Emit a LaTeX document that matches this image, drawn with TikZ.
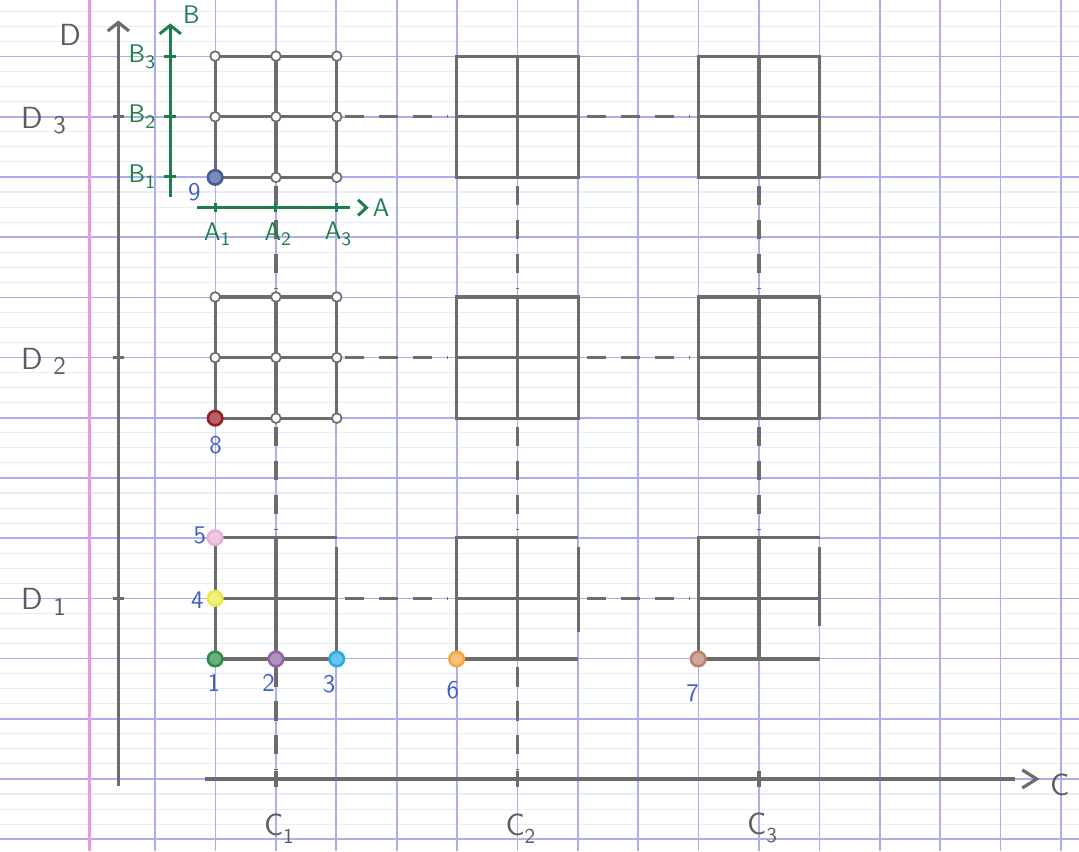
\documentclass[tikz,border=0pt]{standalone}
\usetikzlibrary{arrows.meta,calc}

\definecolor{paperblue}{RGB}{172,174,238}
\definecolor{paperfaint}{RGB}{230,236,250}
\definecolor{marginpink}{RGB}{240,150,222}
\definecolor{pencil}{RGB}{108,108,108}
\definecolor{axisgreen}{RGB}{30,125,75}
\definecolor{inkblue}{RGB}{65,95,200}
\definecolor{dotgreen}{RGB}{45,140,70}
\definecolor{dotpurple}{RGB}{145,100,165}
\definecolor{dotcyan}{RGB}{40,170,225}
\definecolor{dotyellow}{RGB}{238,232,70}
\definecolor{dotpink}{RGB}{232,175,215}
\definecolor{dotorange}{RGB}{245,165,65}
\definecolor{dotbrown}{RGB}{185,130,110}
\definecolor{dotred}{RGB}{150,30,35}
\definecolor{dotblue}{RGB}{65,90,155}

\begin{document}
\begin{tikzpicture}[x=1cm, y=0.997cm, >={Straight Barb[length=4pt, width=10pt]},
    pencil line/.style={draw=pencil, line width=1.5pt},
    link/.style={draw=pencil, line width=1.5pt, dash pattern=on 9pt off 7pt, shorten <=4pt, shorten >=4pt},
    block/.style={minimum width=2cm, minimum height=1.994cm, inner sep=0pt},
    green line/.style={draw=axisgreen, line width=1.4pt},
    pt label/.style={text=inkblue, font=\sffamily\large},
    axis label/.style={text=pencil!85!black, font=\sffamily\Large},
    green label/.style={text=axisgreen, font=\sffamily\large},
]

    % --- 1. Squared paper ---
    \useasboundingbox (-2.57,-1.2) rectangle (15.3,12.94);
    \fill[white] (-2.57,-1.2) rectangle (15.3,12.94);
    \foreach \y in {-1.25,-1,...,12.75}
        \draw[paperfaint, line width=0.5pt] (-2.57,\y) -- (15.3,\y);
    \foreach \y in {-1,...,12}
        \draw[paperblue, line width=0.8pt] (-2.57,\y) -- (15.3,\y);
    \foreach \x in {0,...,15}
        \draw[paperblue, line width=0.8pt] (\x,-1.2) -- (\x,12.94);
    \draw[marginpink, line width=1.2pt] (-1.09,-1.2) -- (-1.09,12.94);

    % --- 2. Blocks C_i x D_j ---
    \foreach \c/\cx in {1/2,2/6,3/10}
        \foreach \d/\dy in {1/3,2/7,3/11}
            \node[block] (c\c-d\d) at (\cx,\dy) {};

    % upper rows: square with a cross
    \foreach \b in {c1-d3,c1-d2,c2-d3,c2-d2,c3-d3,c3-d2}
        \draw[pencil line] (\b.south west) rectangle (\b.north east)
            (\b.west) -- (\b.east) (\b.south) -- (\b.north);

    % bottom row: right edge left short
    \foreach \b/\gap in {c1-d1/0,c2-d1/0.45,c3-d1/0.55}
        \draw[pencil line] (\b.south east) -- (\b.south west) -- (\b.north west) -- (\b.north east)
            (\b.west) -- (\b.east) (\b.south) -- (\b.north)
            ($(\b.north east)+(0,-0.15)$) -- ($(\b.south east)+(0,\gap)$);

    % grey junctions of the C1 grids
    \foreach \b in {c1-d3,c1-d2}
        \foreach \a in {north west,north,north east,west,center,east,south,south east}
            \filldraw[draw=pencil, fill=white, line width=0.8pt] (\b.\a) circle (0.08);

    % --- 3. D axis ---
    \draw[pencil line, ->] (-0.61,-0.12) -- (-0.61,12.6);
    \node[axis label] (dname) at (-1.41,12.36) {D};
    \foreach \d/\dy in {1/3,2/7,3/11} {
        \draw[pencil line] (-0.7,\dy) -- (-0.52,\dy);
        \node[axis label] (dlab\d) at (-1.85,\dy-0.06) {D\hspace{5pt}\raisebox{-0.4ex}{\large\d}};
    }

    % --- 4. C axis ---
    \draw[pencil line] (0.83,0) -- (14.24,0);
    \draw[pencil line] (14.36,0.15) -- (14.6,0) -- (14.36,-0.15);
    \node[axis label] (cname) at (14.98,-0.1) {C};
    \foreach \c/\cx in {1/2,2/6,3/10} {
        \coordinate (c\c-tick) at (\cx,0);
        \draw[pencil line] (\cx,-0.14) -- (\cx,0.14);
        \node[axis label] (clab\c) at (\cx+0.05,-0.82) {C\raisebox{-0.6ex}{\normalsize\c}};
    }

    % --- 5. Dashed links ---
    \foreach \d in {1,2,3} {
        \draw[link] (c1-d\d.east) -- (c2-d\d.west);
        \draw[link] (c2-d\d.east) -- (c3-d\d.west);
    }
    \foreach \c in {1,2,3} {
        \draw[link] (c\c-d3.south) -- (c\c-d2.north);
        \draw[link] (c\c-d2.south) -- (c\c-d1.north);
    }
    \draw[link] (c1-d1.south) -- (c1-tick);
    \draw[link] (c2-d1.south) -- (c2-tick);

    % --- 6. A and B axes ---
    \draw[green line] (0.7,9.49) -- (3.23,9.49);
    \draw[green line] (3.36,9.62) -- (3.5,9.49) -- (3.36,9.36);
    \node[green label] (aname) at (3.74,9.49) {A};
    \foreach \a in {1,2,3} {
        \draw[green line] (\a,9.42) -- (\a,9.56);
        \node[green label] (alab\a) at (\a+0.03,9.05) {A\raisebox{-0.5ex}{\small\a}};
    }
    \draw[green line, ->] (0.25,9.67) -- (0.25,12.55);
    \node[green label] (bname) at (0.6,12.7) {B};
    \foreach \b/\by in {1/10,2/11,3/12} {
        \draw[green line] (0.15,\by) -- (0.35,\by);
        \node[green label] (blab\b) at (-0.22,\by) {B\raisebox{-0.5ex}{\small\b}};
    }

    % --- 7. Coloured values ---
    \foreach \n/\where/\col/\lx/\ly in {
            1/c1-d1.south west/dotgreen/0.97/1.6,
            2/c1-d1.south/dotpurple/1.88/1.6,
            3/c1-d1.south east/dotcyan/2.88/1.57,
            4/c1-d1.west/dotyellow/0.7/2.97,
            5/c1-d1.north west/dotpink/0.74/4.05,
            6/c2-d1.south west/dotorange/4.93/1.48,
            7/c3-d1.south west/dotbrown/8.9/1.43,
            8/c1-d2.south west/dotred/1.0/5.55,
            9/c1-d3.south west/dotblue/0.65/9.75} {
        \filldraw[draw=\col, fill=\col!70, line width=1.2pt] (\where) circle (0.12);
        \node[pt label] (v\n) at (\lx,\ly) {\n};
    }

\end{tikzpicture}
\end{document}
